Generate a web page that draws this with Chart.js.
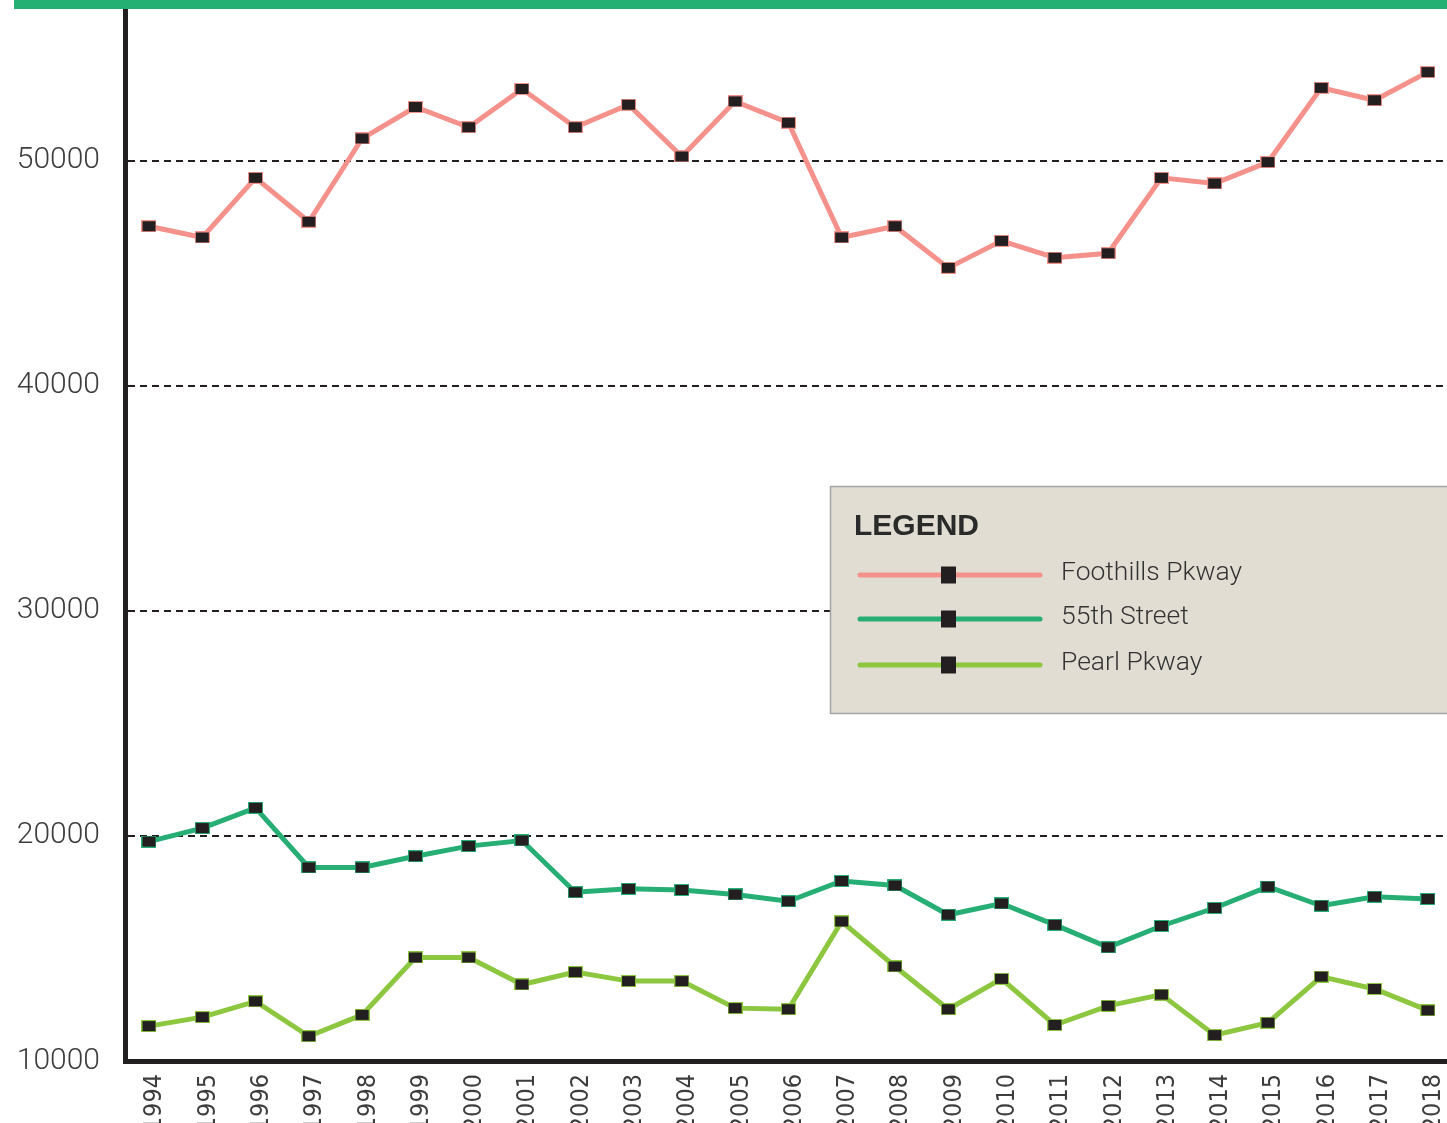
<!DOCTYPE html>
<html>
<head>
<meta charset="utf-8">
<title>Average daily traffic, 1994–2018</title>
<script src="https://cdn.jsdelivr.net/npm/chart.js@4/dist/chart.umd.min.js"></script>
<style>
  html, body { margin: 0; padding: 0; background: #ffffff; overflow: hidden; }
  canvas { display: block; }
</style>
</head>
<body>
<canvas id="chart" width="1447" height="1123"></canvas>
<script>
// Years on the horizontal axis
const years = [1994, 1995, 1996, 1997, 1998, 1999, 2000, 2001, 2002, 2003, 2004, 2005,
               2006, 2007, 2008, 2009, 2010, 2011, 2012, 2013, 2014, 2015, 2016, 2017, 2018];

// Daily vehicle counts per corridor
const foothillsPkway = [47100, 46600, 49250, 47300, 51000, 52400, 51500, 53200, 51500, 52500, 50200, 52650,
                        51700, 46600, 47100, 45250, 46450, 45700, 45900, 49250, 49000, 49950, 53250, 52700, 53950];
const street55th     = [19750, 20350, 21250, 18600, 18600, 19100, 19550, 19800, 17500, 17650, 17600, 17400,
                        17100, 18000, 17800, 16500, 17000, 16050, 15050, 16000, 16800, 17750, 16900, 17300, 17200];
const pearlPkway     = [11550, 11950, 12650, 11100, 12050, 14600, 14600, 13400, 13950, 13550, 13550, 12350,
                        12300, 16200, 14200, 12300, 13650, 11600, 12450, 12950, 11150, 11700, 13750, 13200, 12250];

// Labelled values on the vertical axis
const yTickValues = [10000, 20000, 30000, 40000, 50000];

const seriesNames  = ['Foothills Pkway', '55th Street', 'Pearl Pkway'];
const seriesColors = ['#F4918A', '#27AE74', '#8DC63F'];
const seriesValues = [foothillsPkway, street55th, pearlPkway];

const INK = '#231F20';
const TEXT = '#3d3d3d';

// Small black square marker with a thin coloured outline
function makeMarker(color) {
  const c = document.createElement('canvas');
  c.width = 15; c.height = 12;
  const g = c.getContext('2d');
  g.fillStyle = color;
  g.fillRect(0, 0, 15, 12);
  g.fillStyle = INK;
  g.fillRect(1, 1, 13, 10);
  return c;
}

// Drop the extra edge padding Chart.js reserves for tick labels
function noEdgePadding(scale) {
  scale.paddingTop = 0;
  scale.paddingBottom = 0;
  scale.paddingLeft = 0;
  scale.paddingRight = 0;
}

// Green band across the top of the figure
const topBand = {
  id: 'topBand',
  afterDraw(chart) {
    const ctx = chart.ctx;
    ctx.save();
    ctx.fillStyle = '#25B073';
    ctx.fillRect(14, 0, chart.width - 14, 9);
    ctx.restore();
  }
};

// Boxed legend sitting over the plot
const boxLegend = {
  id: 'boxLegend',
  afterDraw(chart) {
    const ctx = chart.ctx;
    const bx = 830, by = 486, bw = chart.width - 830 + 10, bh = 227;
    ctx.save();
    ctx.fillStyle = '#E1DDD3';
    ctx.fillRect(bx, by, bw, bh);
    ctx.strokeStyle = '#A5A5A5';
    ctx.lineWidth = 1.5;
    ctx.strokeRect(bx + 0.5, by + 0.5, bw, bh);

    ctx.fillStyle = '#2a2a2a';
    ctx.font = 'bold 30px "Liberation Sans", Arial, sans-serif';
    ctx.textBaseline = 'alphabetic';
    ctx.textAlign = 'left';
    ctx.fillText('LEGEND', 854, 535);

    const rows = [575, 619, 665];
    chart.data.datasets.forEach((ds, i) => {
      const y = rows[i];
      ctx.strokeStyle = ds.borderColor;
      ctx.lineWidth = 5;
      ctx.lineCap = 'round';
      ctx.beginPath();
      ctx.moveTo(860, y);
      ctx.lineTo(1040, y);
      ctx.stroke();
      ctx.fillStyle = INK;
      ctx.fillRect(941, y - 8.5, 15, 17);
      ctx.fillStyle = '#333333';
      ctx.font = '300 26.5px Roboto, sans-serif';
      ctx.textBaseline = 'middle';
      ctx.fillText(ds.label, 1061, y - 2);
    });
    ctx.restore();
  }
};

const datasets = seriesNames.map((name, i) => ({
  label: name,
  data: years.map((yr, j) => ({ x: yr, y: seriesValues[i][j] })),
  borderColor: seriesColors[i],
  backgroundColor: seriesColors[i],
  borderWidth: 5,
  pointStyle: makeMarker(seriesColors[i]),
  pointRadius: 7,
  tension: 0,
  fill: false
}));

new Chart(document.getElementById('chart'), {
  type: 'line',
  data: { datasets },
  plugins: [topBand, boxLegend],
  options: {
    responsive: false,
    devicePixelRatio: 1,
    animation: false,
    events: [],
    layout: { autoPadding: false, padding: { top: 10, left: 0, right: 0, bottom: 0 } },
    plugins: {
      legend: { display: false },
      tooltip: { enabled: false },
      title: { display: false }
    },
    scales: {
      x: {
        type: 'linear',
        min: 1993.55,
        max: 2018.36,
        afterBuildTicks(scale) { scale.ticks = years.map(v => ({ value: v })); },
        afterFit(scale) { scale.height = 62; noEdgePadding(scale); },
        grid: { display: false, drawTicks: false },
        border: { display: true, width: 5, color: INK },
        ticks: {
          autoSkip: false,
          minRotation: 90,
          maxRotation: 90,
          padding: 13,
          labelOffset: 6,
          color: TEXT,
          font: { family: '"DejaVu Sans Condensed", sans-serif', size: 25 },
          callback: v => String(v)
        }
      },
      y: {
        min: 10000,
        max: 56711,
        afterBuildTicks(scale) { scale.ticks = yTickValues.map(v => ({ value: v })); },
        afterFit(scale) { scale.width = 125; noEdgePadding(scale); },
        grid: { display: true, drawTicks: false, color: INK, lineWidth: 2 },
        border: { display: true, width: 5, color: INK, dash: [7, 5] },
        ticks: {
          padding: 25,
          color: TEXT,
          font: { family: 'Roboto, "Liberation Sans", sans-serif', size: 30, weight: '300' },
          callback: v => String(v)
        }
      }
    }
  }
});
</script>
</body>
</html>
